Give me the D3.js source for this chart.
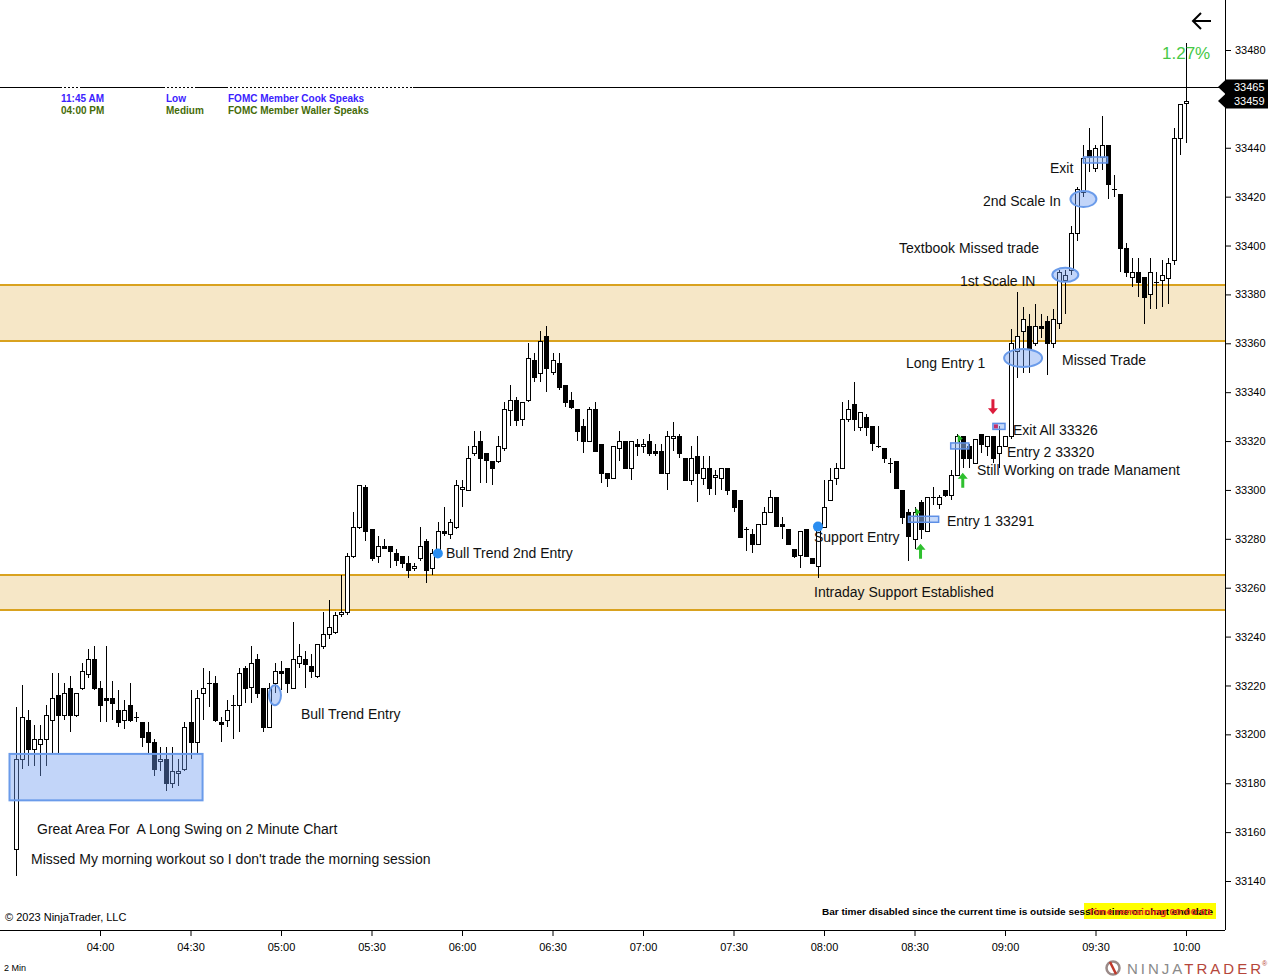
<!DOCTYPE html>
<html>
<head>
<meta charset="utf-8">
<script src="https://cdn.jsdelivr.net/npm/d3@7"></script>
<style>
    body { margin: 0; background: #fff; }
    svg { display: block; font-family: Arial, "Liberation Sans", sans-serif; }
    text.note { white-space: pre; }
</style>
</head>
<body>
<div id="canvas"></div>
<script>
// 2 minute bars, first bar closes at 03:32
const firstBar = "03:32";
const barMinutes = 2;

const opens = [
    33153, 33190, 33206, 33194, 33196, 33198, 33206, 33216, 33208, 33219, 33208, 33219, 33225, 33231,
    33219, 33215, 33215, 33210, 33206, 33212, 33207, 33205, 33201, 33197, 33189, 33190, 33180, 33184, 33186,
    33205, 33197, 33217, 33221, 33221, 33205, 33206, 33212, 33212, 33227, 33219, 33231, 33219, 33203, 33221,
    33226, 33227, 33219, 33229, 33231, 33228, 33224, 33236, 33241, 33242, 33249, 33250, 33273, 33285, 33301,
    33284, 33273, 33277, 33277, 33274, 33273, 33270, 33268, 33272, 33279, 33268, 33274, 33283, 33282, 33285,
    33300, 33300, 33315, 33320, 33315, 33312, 33312, 33317, 33333, 33337, 33329, 33337, 33353, 33348, 33363,
    33348, 33352, 33343, 33337, 33333, 33326, 33320, 33333, 33319, 33307, 33305, 33317, 33320, 33309, 33319,
    33318, 33320, 33316, 33316, 33307, 33321, 33322, 33313, 33304, 33314, 33305, 33309, 33305, 33305, 33309,
    33300, 33296, 33284, 33282, 33278, 33286, 33291, 33297, 33286, 33284, 33276, 33273, 33284, 33272, 33269,
    33285, 33296, 33305, 33309, 33329, 33335, 33326, 33330, 33326, 33318, 33317, 33311, 33312, 33300, 33291,
    33280, 33295, 33283, 33297, 33294, 33300, 33298, 33306, 33322, 33318, 33311, 33323, 33318, 33322, 33315,
    33318, 33322, 33357, 33365, 33367, 33360, 33367, 33369, 33360, 33368, 33386, 33390, 33405, 33422, 33439,
    33432, 33436, 33441, 33423, 33421, 33399, 33387, 33389, 33387, 33380, 33385, 33386, 33387, 33394, 33444, 33458
];
const highs = [
    33211, 33220, 33210, 33204, 33204, 33212, 33225, 33225, 33221, 33224, 33217, 33229, 33235, 33236,
    33222, 33236, 33222, 33218, 33214, 33221, 33209, 33205, 33205, 33198, 33195, 33195, 33195, 33190, 33205,
    33218, 33218, 33227, 33226, 33224, 33207, 33214, 33216, 33227, 33228, 33236, 33233, 33219, 33221, 33229,
    33230, 33227, 33246, 33237, 33234, 33233, 33237, 33250, 33255, 33250, 33265, 33274, 33291, 33302, 33302,
    33284, 33281, 33280, 33277, 33276, 33273, 33273, 33270, 33285, 33280, 33276, 33287, 33293, 33288, 33304,
    33304, 33318, 33324, 33324, 33315, 33312, 33322, 33336, 33343, 33338, 33336, 33360, 33356, 33365, 33367,
    33356, 33356, 33343, 33340, 33333, 33329, 33334, 33336, 33319, 33307, 33318, 33324, 33320, 33320, 33321,
    33321, 33323, 33319, 33319, 33324, 33328, 33323, 33313, 33318, 33322, 33314, 33314, 33308, 33309, 33309,
    33300, 33296, 33285, 33284, 33286, 33293, 33300, 33297, 33289, 33284, 33276, 33283, 33284, 33272, 33287,
    33304, 33309, 33311, 33336, 33337, 33344, 33332, 33331, 33326, 33326, 33317, 33313, 33312, 33300, 33292,
    33293, 33296, 33297, 33301, 33298, 33300, 33308, 33323, 33322, 33319, 33321, 33323, 33322, 33322, 33326,
    33322, 33366, 33381, 33375, 33372, 33376, 33372, 33371, 33374, 33390, 33390, 33408, 33424, 33441, 33448,
    33441, 33453, 33441, 33429, 33421, 33401, 33395, 33395, 33387, 33395, 33389, 33394, 33395, 33448, 33458, 33483
];
const lows = [
    33142, 33186, 33187, 33187, 33183, 33187, 33192, 33192, 33206, 33201, 33207, 33218, 33223, 33218,
    33205, 33205, 33206, 33203, 33202, 33205, 33205, 33195, 33192, 33183, 33185, 33177, 33178, 33179, 33185,
    33190, 33192, 33206, 33211, 33205, 33197, 33203, 33198, 33201, 33213, 33213, 33215, 33201, 33203, 33217,
    33218, 33217, 33219, 33227, 33219, 33223, 33223, 33235, 33239, 33241, 33248, 33249, 33272, 33284, 33279,
    33271, 33270, 33276, 33268, 33269, 33268, 33264, 33267, 33271, 33262, 33265, 33273, 33281, 33280, 33284,
    33293, 33300, 33314, 33303, 33303, 33302, 33311, 33316, 33326, 33326, 33326, 33336, 33344, 33344, 33340,
    33347, 33341, 33334, 33333, 33320, 33315, 33320, 33316, 33303, 33301, 33305, 33312, 33309, 33304, 33314,
    33315, 33314, 33314, 33307, 33300, 33316, 33313, 33304, 33302, 33295, 33302, 33298, 33298, 33300, 33298,
    33291, 33281, 33275, 33274, 33278, 33286, 33291, 33285, 33280, 33278, 33272, 33268, 33273, 33270, 33264,
    33285, 33296, 33302, 33309, 33328, 33324, 33324, 33322, 33316, 33317, 33311, 33307, 33301, 33286, 33271,
    33276, 33280, 33283, 33294, 33292, 33297, 33296, 33306, 33309, 33309, 33311, 33315, 33314, 33311, 33309,
    33318, 33321, 33346, 33348, 33348, 33359, 33362, 33347, 33358, 33366, 33372, 33388, 33402, 33420, 33430,
    33430, 33431, 33419, 33420, 33389, 33387, 33383, 33379, 33368, 33374, 33374, 33375, 33376, 33392, 33437, 33442
];
const closes = [
    33190, 33207, 33194, 33198, 33198, 33208, 33215, 33208, 33217, 33208, 33217, 33226, 33231, 33219,
    33212, 33214, 33213, 33205, 33210, 33206, 33207, 33199, 33197, 33186, 33190, 33180, 33185, 33185, 33203,
    33197, 33215, 33219, 33221, 33206, 33204, 33210, 33212, 33225, 33219, 33229, 33217, 33203, 33219, 33226,
    33225, 33221, 33231, 33232, 33229, 33226, 33237, 33241, 33244, 33249, 33250, 33273, 33285, 33302, 33283,
    33272, 33277, 33276, 33275, 33271, 33270, 33267, 33269, 33277, 33267, 33274, 33283, 33282, 33287, 33302,
    33301, 33313, 33318, 33313, 33312, 33309, 33318, 33333, 33337, 33329, 33336, 33354, 33346, 33361, 33350,
    33353, 33342, 33336, 33334, 33324, 33320, 33333, 33316, 33307, 33305, 33318, 33320, 33309, 33320, 33318,
    33319, 33315, 33315, 33307, 33322, 33322, 33315, 33304, 33313, 33307, 33309, 33301, 33306, 33309, 33300,
    33293, 33281, 33284, 33278, 33286, 33291, 33297, 33285, 33285, 33278, 33273, 33283, 33273, 33270, 33285,
    33293, 33304, 33309, 33329, 33333, 33329, 33332, 33326, 33319, 33318, 33313, 33311, 33301, 33289, 33281,
    33291, 33284, 33297, 33297, 33297, 33298, 33306, 33322, 33313, 33313, 33321, 33319, 33322, 33313, 33318,
    33322, 33360, 33363, 33370, 33358, 33367, 33366, 33360, 33370, 33389, 33388, 33405, 33423, 33436, 33436,
    33440, 33441, 33425, 33423, 33399, 33389, 33389, 33385, 33379, 33389, 33385, 33388, 33393, 33444, 33458, 33459
];

const priceTicks = d3.range(33140, 33481, 20);
const zones = [[33384, 33361], [33265, 33251]];
const lastPrices = [33465, 33459];
const changeText = "1.27%";

// drawn objects (time, price)
const swingBox = { from: "03:30", to: "04:34", top: 33192, bottom: 33173 };
const ellipses = [
    { t: "04:58", p: 33216, rx: 6, ry: 10 },
    { t: "09:26", p: 33419, rx: 13, ry: 8 },
    { t: "09:20", p: 33388, rx: 13, ry: 7 },
    { t: "09:06", p: 33354, rx: 19, ry: 9 }
];
const dots = [{ t: "05:52", p: 33274 }, { t: "07:58", p: 33285 }];
const fills = [
    { from: "08:28", to: "08:38", p: 33288 },
    { from: "08:42", to: "08:48", p: 33318 },
    { from: "08:56", to: "09:00", p: 33326 },
    { from: "09:26", to: "09:34", p: 33435 }
];
const buyArrows = [{ t: "08:32", p: 33278 }, { t: "08:46", p: 33307 }];
const sellArrows = [{ t: "08:56", p: 33331 }];
const fillTicks = [{ t: "08:30", p: 33291 }, { t: "08:44", p: 33321 }];

const notes = [
    ["Exit", 1050, 173],
    ["2nd Scale In", 983, 206],
    ["Textbook Missed trade", 899, 253],
    ["1st Scale IN", 960, 286],
    ["Long Entry 1", 906, 368],
    ["Missed Trade", 1062, 365],
    ["Exit All 33326", 1013, 435],
    ["Entry 2 33320", 1007, 457],
    ["Still Working on trade Manament", 977, 475],
    ["Entry 1 33291", 947, 526],
    ["Support Entry", 814, 542],
    ["Bull Trend 2nd Entry", 446, 558],
    ["Intraday Support Established", 814, 597],
    ["Bull Trend Entry", 301, 719],
    ["Great Area For  A Long Swing on 2 Minute Chart", 37, 834],
    ["Missed My morning workout so I don't trade the morning session", 31, 864]
];

const newsTimes = ["11:45 AM", "04:00 PM"];
const newsImpact = ["Low", "Medium"];
const newsTitles = ["FOMC Member Cook Speaks", "FOMC Member Waller Speaks"];
const newsColors = ["#3b22ff", "#456b08"];

let width = 1270;
let height = 977;
let plotRight = 1225;
let plotBottom = 930;

const T = (s) => {
    let [h, m] = s.split(":").map(Number);
    return new Date(2023, 5, 20, h, m);
};

let bars = opens.map((o, i) => ({
    t: d3.timeMinute.offset(T(firstBar), i * barMinutes),
    o: o, h: highs[i], l: lows[i], c: closes[i]
}));

const x = d3.scaleTime()
    .domain([T("04:00"), T("10:00")])
    .range([100, 1186]);

const y = d3.scaleLinear()
    .domain([33140, 33480])
    .range([881, 50]);

let svg = d3.select("#canvas")
    .append("svg")
    .attr("width", width)
    .attr("height", height);

svg.append("rect").attr("width", width).attr("height", height).attr("fill", "#fff");

svg.append("clipPath").attr("id", "plot")
    .append("rect").attr("width", plotRight).attr("height", plotBottom);

let plot = svg.append("g").attr("clip-path", "url(#plot)");

/* SUPPORT / RESISTANCE ZONES */
plot.selectAll("rect.zone")
    .data(zones)
    .join("rect")
    .attr("class", "zone")
    .attr("x", 0)
    .attr("width", plotRight)
    .attr("y", d => y(d[0]))
    .attr("height", d => y(d[1]) - y(d[0]))
    .attr("fill", "#f6e7c7");

zones.forEach(z => {
    plot.selectAll(null)
        .data(z)
        .join("line")
        .attr("x1", 0).attr("x2", plotRight)
        .attr("y1", d => Math.round(y(d)))
        .attr("y2", d => Math.round(y(d)))
        .attr("stroke", "#d9a21f")
        .attr("stroke-width", 2);
});

/* CANDLES */
let candles = plot.append("g").attr("shape-rendering", "crispEdges");
let cx = d => Math.round(x(d.t)) + 0.5;

candles.selectAll("line.wick")
    .data(bars)
    .join("line")
    .attr("class", "wick")
    .attr("x1", cx).attr("x2", cx)
    .attr("y1", d => y(d.h))
    .attr("y2", d => y(d.l))
    .attr("stroke", "#000");

candles.selectAll("rect.body")
    .data(bars.filter(d => d.o != d.c))
    .join("rect")
    .attr("class", "body")
    .attr("x", d => cx(d) - 2)
    .attr("width", 4)
    .attr("y", d => Math.round(y(Math.max(d.o, d.c))) + 0.5)
    .attr("height", d => Math.max(1, Math.round(Math.abs(y(d.o) - y(d.c)))))
    .attr("fill", d => d.c > d.o ? "#fff" : "#000")
    .attr("stroke", "#000");

candles.selectAll("line.doji")
    .data(bars.filter(d => d.o == d.c))
    .join("line")
    .attr("class", "doji")
    .attr("x1", d => cx(d) - 2.5).attr("x2", d => cx(d) + 2.5)
    .attr("y1", d => Math.round(y(d.c)) + 0.5)
    .attr("y2", d => Math.round(y(d.c)) + 0.5)
    .attr("stroke", "#000");

/* DRAWING OBJECTS */
const blueFill = "rgba(110,155,240,0.42)";
const blueLine = "#6a9bea";

plot.append("rect")
    .attr("x", x(T(swingBox.from)))
    .attr("width", x(T(swingBox.to)) - x(T(swingBox.from)))
    .attr("y", y(swingBox.top))
    .attr("height", y(swingBox.bottom) - y(swingBox.top))
    .attr("fill", blueFill)
    .attr("stroke", blueLine)
    .attr("stroke-width", 2);

plot.selectAll("ellipse")
    .data(ellipses)
    .join("ellipse")
    .attr("cx", d => x(T(d.t)))
    .attr("cy", d => y(d.p))
    .attr("rx", d => d.rx)
    .attr("ry", d => d.ry)
    .attr("fill", blueFill)
    .attr("stroke", blueLine)
    .attr("stroke-width", 2);

plot.selectAll("rect.fill")
    .data(fills)
    .join("rect")
    .attr("class", "fill")
    .attr("x", d => x(T(d.from)))
    .attr("width", d => x(T(d.to)) - x(T(d.from)))
    .attr("y", d => y(d.p) - 3)
    .attr("height", 6)
    .attr("fill", "rgba(150,185,245,0.55)")
    .attr("stroke", "#5d8fe6")
    .attr("stroke-width", 1.5);

plot.append("rect")
    .attr("x", x(T("08:56")) + 1).attr("y", y(33326) - 2)
    .attr("width", 4).attr("height", 4)
    .attr("fill", "#c2306a");

plot.selectAll("circle.dot")
    .data(dots)
    .join("circle")
    .attr("class", "dot")
    .attr("cx", d => x(T(d.t)))
    .attr("cy", d => y(d.p))
    .attr("r", 5)
    .attr("fill", "#2a8df0");

let arrowPath = (dir) => dir > 0
    ? "M0,0 L-5,6 L-1.5,6 L-1.5,15 L1.5,15 L1.5,6 L5,6 Z"
    : "M0,0 L-5,-6 L-1.5,-6 L-1.5,-15 L1.5,-15 L1.5,-6 L5,-6 Z";

plot.selectAll("path.buy")
    .data(buyArrows)
    .join("path")
    .attr("class", "buy")
    .attr("transform", d => `translate(${x(T(d.t))},${y(d.p)})`)
    .attr("d", arrowPath(1))
    .attr("fill", "#2ec02e");

plot.selectAll("path.sell")
    .data(sellArrows)
    .join("path")
    .attr("class", "sell")
    .attr("transform", d => `translate(${x(T(d.t))},${y(d.p)})`)
    .attr("d", arrowPath(-1))
    .attr("fill", "#dc1c3c");

plot.selectAll("path.tick")
    .data(fillTicks)
    .join("path")
    .attr("class", "tick")
    .attr("transform", d => `translate(${x(T(d.t)) + 1},${y(d.p)})`)
    .attr("d", "M0,-4 L5,0 L0,4 Z")
    .attr("fill", "#22b822");

/* LAST PRICE LINE */
plot.append("line")
    .attr("x1", 0).attr("x2", plotRight)
    .attr("y1", Math.round(y(lastPrices[0])) + 0.5)
    .attr("y2", Math.round(y(lastPrices[0])) + 0.5)
    .attr("stroke", "#000");

[[62, 82], [165, 197], [228, 413]].forEach(s => {
    plot.append("line")
        .attr("x1", s[0]).attr("x2", s[1])
        .attr("y1", Math.round(y(lastPrices[0])) + 0.5)
        .attr("y2", Math.round(y(lastPrices[0])) + 0.5)
        .attr("stroke", "#fff")
        .attr("stroke-dasharray", "2,2");
});

/* NEWS TABLE */
let news = svg.append("g")
    .attr("font-size", "10px")
    .attr("font-weight", "bold");

newsTimes.forEach((t, i) => {
    let row = news.append("g").attr("fill", newsColors[i]);
    row.append("text").attr("x", 61).attr("y", 102 + i * 12).text(t);
    row.append("text").attr("x", 166).attr("y", 102 + i * 12).text(newsImpact[i]);
    row.append("text").attr("x", 228).attr("y", 102 + i * 12).text(newsTitles[i]);
});

/* NOTES */
svg.append("g")
    .attr("font-size", "14px")
    .attr("fill", "#111")
    .selectAll("text")
    .data(notes)
    .join("text")
    .attr("class", "note")
    .attr("xml:space", "preserve")
    .attr("x", d => d[1])
    .attr("y", d => d[2])
    .text(d => d[0]);

svg.append("text")
    .attr("x", 1162).attr("y", 59)
    .attr("font-size", "17px")
    .attr("fill", "#46c846")
    .text(changeText);

svg.append("path")
    .attr("d", "M1211,21 L1193,21 M1201,13 L1193,21 L1201,29")
    .attr("fill", "none")
    .attr("stroke", "#000")
    .attr("stroke-width", 2);

/* AXES */
svg.append("line")
    .attr("x1", plotRight + 0.5).attr("x2", plotRight + 0.5)
    .attr("y1", 0).attr("y2", plotBottom)
    .attr("stroke", "#000");

svg.append("line")
    .attr("x1", 0).attr("x2", plotRight)
    .attr("y1", plotBottom + 0.5).attr("y2", plotBottom + 0.5)
    .attr("stroke", "#000");

let yAxis = svg.append("g")
    .attr("transform", `translate(${plotRight + 1},0)`)
    .call(d3.axisRight(y).tickValues(priceTicks).tickSize(5).tickPadding(4).tickFormat(d3.format("d")));
yAxis.select(".domain").remove();
yAxis.selectAll("text").attr("font-size", "11px").attr("font-family", "Arial, 'Liberation Sans', sans-serif").attr("fill", "#000");

let xAxis = svg.append("g")
    .attr("transform", `translate(0,${plotBottom + 1})`)
    .call(d3.axisBottom(x).ticks(d3.timeMinute.every(30)).tickSize(5).tickPadding(7).tickFormat(d3.timeFormat("%H:%M")));
xAxis.select(".domain").remove();
xAxis.selectAll("text").attr("font-size", "11px").attr("font-family", "Arial, 'Liberation Sans', sans-serif").attr("fill", "#000");

/* LAST PRICE MARKERS */
let markers = svg.selectAll("g.marker")
    .data(lastPrices)
    .join("g")
    .attr("class", "marker")
    .attr("transform", d => `translate(0,${Math.round(y(d))})`);

markers.append("path")
    .attr("d", "M1218,0 L1226,-7.5 L1268,-7.5 L1268,7.5 L1226,7.5 Z")
    .attr("fill", "#000");

markers.append("text")
    .attr("x", 1234).attr("y", 4)
    .attr("font-size", "11px")
    .attr("fill", "#fff")
    .text(d => d);

/* FOOTER */
svg.append("text")
    .attr("x", 5).attr("y", 921)
    .attr("font-size", "11px")
    .text("\u00a9 2023 NinjaTrader, LLC");

svg.append("text")
    .attr("x", 4).attr("y", 971)
    .attr("font-size", "9px")
    .text("2 Min");

svg.append("rect")
    .attr("x", 1084).attr("y", 903)
    .attr("width", 132).attr("height", 16)
    .attr("fill", "#ffff00");

svg.append("text")
    .attr("x", 822).attr("y", 915)
    .attr("font-size", "9px")
    .attr("font-weight", "bold")
    .attr("textLength", 391)
    .attr("lengthAdjust", "spacingAndGlyphs")
    .text("Bar timer disabled since the current time is outside session time or chart end date");

svg.append("text")
    .attr("x", 1088).attr("y", 915)
    .attr("font-size", "9px")
    .attr("font-weight", "bold")
    .attr("fill", "#e8321e")
    .attr("textLength", 124)
    .attr("lengthAdjust", "spacingAndGlyphs")
    .text("Time remaining 00:00:01");

let logo = svg.append("g");
logo.append("circle").attr("cx", 1113).attr("cy", 968).attr("r", 6.5)
    .attr("fill", "none").attr("stroke", "#9a8a88").attr("stroke-width", 2.5);
logo.append("path").attr("d", "M1110,962 L1116,974").attr("stroke", "#c0392b").attr("stroke-width", 2.5);
logo.append("text")
    .attr("x", 1127).attr("y", 974)
    .attr("font-size", "15px")
    .attr("textLength", 134)
    .attr("lengthAdjust", "spacing")
    .html('<tspan fill="#8a8a8a">NINJA</tspan><tspan fill="#b5463a">TRADER</tspan>');
logo.append("text")
    .attr("x", 1262).attr("y", 966)
    .attr("font-size", "7px")
    .attr("fill", "#b5463a")
    .text("\u00ae");
</script>
</body>
</html>
